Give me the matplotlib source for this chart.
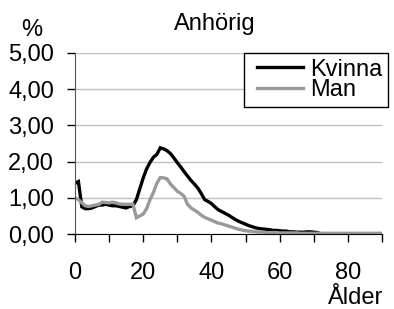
import matplotlib
matplotlib.use("Agg")
import matplotlib.pyplot as plt
from matplotlib.ticker import FuncFormatter
from matplotlib.legend_handler import HandlerLine2D

plt.rcParams['font.family'] = ['Liberation Sans', 'DejaVu Sans']

# age 0..90
alder = list(range(0, 91))

kvinna = [1.40, 1.45, 0.75, 0.70, 0.70, 0.72, 0.76, 0.80, 0.80, 0.82,
          0.80, 0.78, 0.78, 0.76, 0.74, 0.72, 0.76, 0.78, 0.95, 1.25,
          1.55, 1.80, 1.98, 2.12, 2.20, 2.38, 2.35, 2.30, 2.22, 2.10,
          1.97, 1.85, 1.72, 1.60, 1.48, 1.38, 1.27, 1.12, 0.95, 0.90,
          0.84, 0.75, 0.67, 0.62, 0.57, 0.52, 0.46, 0.40, 0.35, 0.31,
          0.27, 0.23, 0.20, 0.17, 0.15, 0.14, 0.13, 0.12, 0.10, 0.10,
          0.09, 0.08, 0.08, 0.06, 0.06, 0.05, 0.05, 0.05, 0.06, 0.06,
          0.05, 0.04, 0.01, 0.0, 0.0, 0.0, 0.0, 0.0, 0.0, 0.0,
          0.0, 0.0, 0.0, 0.0, 0.0, 0.0, 0.0, 0.0, 0.0, 0.0, 0.0]

man = [1.00, 0.95, 0.86, 0.78, 0.76, 0.78, 0.80, 0.82, 0.88, 0.87,
       0.86, 0.88, 0.86, 0.83, 0.82, 0.82, 0.82, 0.82, 0.45, 0.50,
       0.55, 0.70, 0.95, 1.15, 1.40, 1.56, 1.55, 1.52, 1.38, 1.28,
       1.18, 1.12, 1.04, 0.82, 0.72, 0.66, 0.60, 0.52, 0.46, 0.42,
       0.38, 0.34, 0.30, 0.28, 0.25, 0.22, 0.19, 0.16, 0.13, 0.11,
       0.09, 0.08, 0.07, 0.06, 0.05, 0.05, 0.04, 0.04, 0.04, 0.04,
       0.03, 0.03, 0.03, 0.03, 0.03, 0.03, 0.02, 0.02, 0.02, 0.02,
       0.02, 0.02, 0.02, 0.02, 0.02, 0.02, 0.02, 0.02, 0.02, 0.02,
       0.02, 0.02, 0.02, 0.02, 0.02, 0.02, 0.02, 0.02, 0.02, 0.02, 0.02]

xticks = list(range(0, 91, 10))
xticklabels = ['0', '', '20', '', '40', '', '60', '', '80', '']
yticks = [0, 1, 2, 3, 4, 5]

fs = 17

fig = plt.figure(figsize=(3.94, 3.09), dpi=100)
ax = fig.add_axes([75/394, 75/309, 307/394, 181/309])

ax.plot(alder, kvinna, color='black', lw=2.4, label='Kvinna', solid_joinstyle='miter')
ax.plot(alder, man, color='#999999', lw=2.4, label='Man', solid_joinstyle='miter')

ax.set_xlim(0, 90)
ax.set_ylim(0, 5)
ax.set_xticks(xticks)
ax.set_xticklabels(xticklabels)
ax.set_yticks(yticks)
ax.yaxis.set_major_formatter(FuncFormatter(lambda v, p: ('%.2f' % v).replace('.', ',')))
ax.tick_params(axis='y', direction='out', length=6, width=1, pad=9, labelsize=fs)
ax.tick_params(axis='x', direction='out', length=6, width=1, pad=14, labelsize=fs)
ax.grid(axis='y', color='#c0c0c0', lw=1)
ax.set_axisbelow(True)
for s in ['top', 'right']:
    ax.spines[s].set_visible(False)
ax.spines['left'].set_color('#555555')
ax.spines['bottom'].set_color('black')

leg = ax.legend(loc='upper right', bbox_to_anchor=(388/394, 1 - 52.7/309),
                bbox_transform=fig.transFigure, borderaxespad=0, fontsize=fs,
                handlelength=2.25, handletextpad=0.3, borderpad=0.25,
                labelspacing=-0.05, fancybox=False, framealpha=1,
                handler_map={plt.Line2D: HandlerLine2D(xpad=0.3)})
leg.get_frame().set_edgecolor('black')
leg.get_frame().set_linewidth(1)

fig.text(215/394, 1 - 24/309, 'Anhörig', ha='center', va='center', fontsize=fs)
fig.text(32/394, 1 - 30/309, '%', ha='center', va='center', fontsize=fs)
fig.text(383/394, 1 - 298/309, 'Ålder', ha='right', va='center', fontsize=fs)

fig.savefig('out.png', dpi=100)
